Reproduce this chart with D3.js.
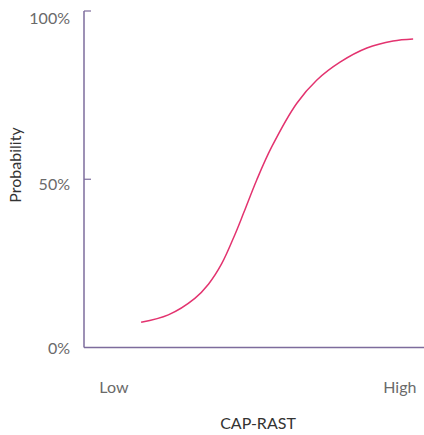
<!DOCTYPE html>
<html>
<head>
<meta charset="utf-8">
<script src="https://cdn.jsdelivr.net/npm/d3@7"></script>
<style>
  html, body { margin: 0; padding: 0; background: #fff; }
  svg { display: block; font-family: Lato, "Open Sans", sans-serif; }
</style>
</head>
<body>
<svg id="chart" width="424" height="435"></svg>
<script>
// Curve points: x on a 0–100 "CAP-RAST" scale (Low → High), y = probability
const capRast = [16.8, 24.8, 32.6, 36.6, 40.5, 44.4, 47.0, 50.8, 55.2, 62.6, 68.5, 75.3, 83.2, 90.9, 96.8];
const probability = [0.075, 0.097, 0.146, 0.188, 0.249, 0.336, 0.401, 0.498, 0.596, 0.726, 0.795, 0.848, 0.890, 0.911, 0.917];
const yTickValues = [0, 0.5, 1];
const yTickLabels = ["0%", "50%", "100%"];
const xTickValues = [8.8, 92.9];
const xTickLabels = ["Low", "High"];

const svg = d3.select("#chart");
const x = d3.scaleLinear().domain([0, 100]).range([84, 424]);
const y = d3.scaleLinear().domain([0, 1]).range([347.5, 11]);

const axisColor = "#7d6c9c";
const textColor = "#6a6a6a";

// Axis lines
svg.append("line").attr("x1", x(0)).attr("x2", x(0)).attr("y1", y(1)).attr("y2", y(0))
  .attr("stroke", axisColor).attr("stroke-width", 1.5);
svg.append("line").attr("x1", x(0)).attr("x2", x(100)).attr("y1", y(0)).attr("y2", y(0))
  .attr("stroke", axisColor).attr("stroke-width", 1.5);

// Inner y ticks
svg.selectAll("line.ytick").data(yTickValues.filter(d => d > 0)).enter().append("line")
  .attr("class", "ytick")
  .attr("x1", x(0)).attr("x2", x(0) + 7)
  .attr("y1", d => y(d)).attr("y2", d => y(d))
  .attr("stroke", axisColor).attr("stroke-width", 1.2);

// Y labels
svg.selectAll("text.ylab").data(yTickValues).enter().append("text")
  .attr("class", "ylab")
  .attr("x", 70).attr("y", (d, i) => y(d) + [6, 11, 13][i])
  .attr("text-anchor", "end")
  .attr("font-size", 16).attr("fill", textColor)
  .text((d, i) => yTickLabels[i]);

// X labels
svg.selectAll("text.xlab").data(xTickValues).enter().append("text")
  .attr("class", "xlab")
  .attr("x", d => x(d)).attr("y", 393)
  .attr("text-anchor", "middle")
  .attr("font-size", 16).attr("fill", textColor)
  .text((d, i) => xTickLabels[i]);

// Axis titles
svg.append("text").attr("x", 258).attr("y", 429).attr("text-anchor", "middle")
  .attr("font-size", 16).attr("fill", "#333").text("CAP-RAST");
svg.append("text").attr("transform", "translate(21,165) rotate(-90)").attr("text-anchor", "middle")
  .attr("font-size", 16).attr("fill", "#333").text("Probability");

// Curve
const line = d3.line().x(d => x(d[0])).y(d => y(d[1])).curve(d3.curveCatmullRom.alpha(0.5));
svg.append("path")
  .datum(capRast.map((c, i) => [c, probability[i]]))
  .attr("d", line)
  .attr("fill", "none")
  .attr("stroke", "#e3336f")
  .attr("stroke-width", 1.5);
</script>
</body>
</html>
